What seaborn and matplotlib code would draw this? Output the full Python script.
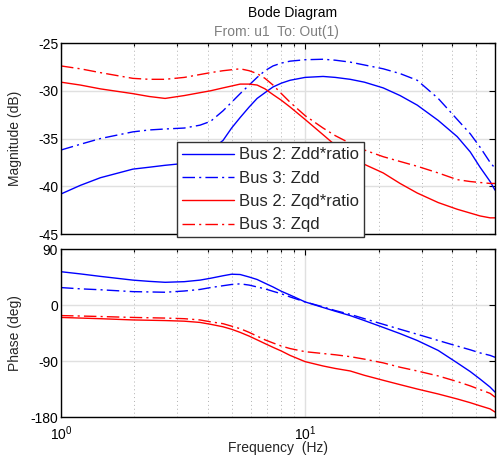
import matplotlib
matplotlib.use("Agg")
import matplotlib.pyplot as plt
import seaborn as sns
from matplotlib.ticker import FixedLocator, NullFormatter, FixedFormatter

# =====================================
# Data
# =====================================

freq = [1.0, 1.2, 1.45, 1.97, 2.3, 2.67, 3.2, 3.71, 4.1, 4.61, 5.0, 5.42, 5.9, 6.36, 6.85, 7.39,
        8.0, 8.68, 10.0, 11.85, 13.3, 15.3, 17.5, 20.9, 24.5, 28.8, 35.1, 42.0, 47.5, 52.1, 57.3, 60.0]

mag_bus2_zdd = [-40.8, -39.9, -39.1, -38.2, -38.0, -37.8, -37.6, -36.9, -36.2, -35.2, -33.9, -32.8,
                -31.7, -30.8, -30.2, -29.6, -29.2, -28.9, -28.6, -28.5, -28.6, -28.8, -29.1, -29.7,
                -30.5, -31.5, -33.1, -34.8, -36.4, -38.0, -39.5, -40.4]
mag_bus3_zdd = [-36.2, -35.6, -35.0, -34.3, -34.1, -34.0, -33.9, -33.6, -33.2, -32.1, -31.2, -30.3,
                -29.4, -28.6, -27.9, -27.4, -27.1, -26.9, -26.75, -26.7, -26.8, -27.0, -27.3, -27.7,
                -28.2, -28.9, -30.8, -33.0, -34.5, -35.9, -37.5, -38.1]
mag_bus2_zqd = [-29.1, -29.4, -29.8, -30.3, -30.6, -30.8, -30.5, -30.2, -30.0, -29.7, -29.5, -29.3,
                -29.3, -29.4, -29.8, -30.4, -31.0, -31.7, -33.0, -34.6, -35.7, -36.8, -37.7, -38.6,
                -39.7, -40.7, -41.7, -42.4, -42.8, -43.1, -43.3, -43.3]
mag_bus3_zqd = [-27.4, -27.7, -28.1, -28.7, -28.8, -28.8, -28.6, -28.3, -28.1, -27.9, -27.8, -27.7,
                -27.9, -28.2, -28.7, -29.4, -30.3, -31.2, -32.6, -33.9, -34.7, -35.5, -36.2, -36.9,
                -37.4, -37.9, -38.6, -39.3, -39.5, -39.6, -39.7, -39.7]

ph_bus2_zdd = [53.5, 50, 46, 40, 38, 36.5, 37.5, 40, 43, 47, 49.5, 49, 45, 41, 35, 29,
               22, 16, 5, -4, -10, -17, -25, -36, -46, -57, -73, -93, -107, -119, -132, -140]
ph_bus3_zdd = [28, 26, 24.5, 21.5, 21, 20.5, 22.5, 25, 28, 31, 33, 34, 32, 29, 26, 22,
               18, 13, 5, -3, -9, -15, -22, -31, -39, -47, -57, -66, -72, -77, -81, -84]
ph_bus2_zqd = [-20, -21, -22, -24, -24.5, -25, -26, -28, -31, -35, -39, -44, -50, -56, -62, -68,
               -74, -81, -91, -98, -102, -106, -113, -121, -128, -135, -143, -151, -157, -162, -167, -172]
ph_bus3_zqd = [-17, -17.7, -18.5, -20, -20.5, -21, -22, -24, -27, -30, -34, -38, -44, -50, -56, -61,
               -66, -70, -75, -78, -80, -83, -87, -93, -100, -106, -114, -123, -130, -136, -142, -148]

names = ["Bus 2: Zdd*ratio", "Bus 3: Zdd", "Bus 2: Zqd*ratio", "Bus 3: Zqd"]
mags = [mag_bus2_zdd, mag_bus3_zdd, mag_bus2_zqd, mag_bus3_zqd]
phases = [ph_bus2_zdd, ph_bus3_zdd, ph_bus2_zqd, ph_bus3_zqd]

dashdot = (0, (9, 3, 1.5, 3))
colors = ["#0000ff", "#0000ff", "#ff0000", "#ff0000"]
styles = ["-", dashdot, "-", dashdot]

# =====================================
# Style
# =====================================

sns.set_theme(style="white")
plt.rcParams["font.family"] = ["Liberation Sans", "DejaVu Sans"]
plt.rcParams["axes.unicode_minus"] = False
plt.rcParams["mathtext.fontset"] = "custom"
plt.rcParams["mathtext.rm"] = "Liberation Sans"
plt.rcParams["mathtext.it"] = "Liberation Sans:italic"

fig = plt.figure(figsize=(4.98, 4.59), dpi=100)
ax1 = fig.add_axes([0.1225, 0.490, 0.8715, 0.4163])
ax2 = fig.add_axes([0.1225, 0.0915, 0.8715, 0.366])

for name, m, p, c, ls in zip(names, mags, phases, colors, styles):
    sns.lineplot(x=freq, y=m, ax=ax1, color=c, linestyle=ls, linewidth=1.0, label=name)
    sns.lineplot(x=freq, y=p, ax=ax2, color=c, linestyle=ls, linewidth=1.0, legend=False)

minor_x = [2, 3, 4, 5, 6, 7, 8, 9, 20, 30, 40, 50, 60]

for ax in (ax1, ax2):
    ax.set_xscale("log")
    ax.set_xlim(1, 60)
    ax.xaxis.set_major_locator(FixedLocator([1, 10]))
    ax.xaxis.set_minor_locator(FixedLocator(minor_x))
    ax.xaxis.set_minor_formatter(NullFormatter())
    ax.grid(True, which="major", color="#e0e0e0", linewidth=1.0, linestyle="-")
    ax.grid(True, which="minor", axis="x", color="#b0b0b0", linewidth=0.7, linestyle=(0, (1, 3)))
    ax.set_axisbelow(True)
    ax.tick_params(which="both", direction="in", top=True, right=True,
                   labelsize=10, colors="black", width=0.8)
    ax.tick_params(which="major", length=4, pad=2)
    ax.tick_params(which="minor", length=2)
    for sp in ax.spines.values():
        sp.set_color("black")
        sp.set_linewidth(1.0)

ax1.set_ylim(-45, -25)
ax1.set_yticks([-45, -40, -35, -30, -25])
ax1.xaxis.set_major_formatter(NullFormatter())
ax1.set_ylabel("Magnitude (dB)", fontsize=10)
ax1.yaxis.set_label_coords(-0.09, 0.5)

ax2.set_ylim(-180, 90)
ax2.set_yticks([-180, -90, 0, 90])
ax2.xaxis.set_major_formatter(FixedFormatter(["$10^{0}$", "$10^{1}$"]))
ax2.tick_params(axis="x", which="major", pad=5)
ax2.set_ylabel("Phase (deg)", fontsize=10)
ax2.yaxis.set_label_coords(-0.09, 0.5)
ax2.set_xlabel("Frequency  (Hz)", fontsize=10, labelpad=-1)

leg = ax1.legend(loc="upper left", bbox_to_anchor=(0.267, 0.48), fontsize=12,
                 frameon=True, fancybox=False, framealpha=1, edgecolor="#333333",
                 handlelength=3.1, handletextpad=0.3, labelspacing=0.5,
                 borderpad=0.3, borderaxespad=0)
leg.get_frame().set_linewidth(1.0)

fig.text(0.588, 0.972, "Bode Diagram", ha="center", va="center", fontsize=10, color="black")
fig.text(0.556, 0.930, "From: u1  To: Out(1)", ha="center", va="center", fontsize=10, color="#7f7f7f")

fig.savefig("out.png", dpi=100)
